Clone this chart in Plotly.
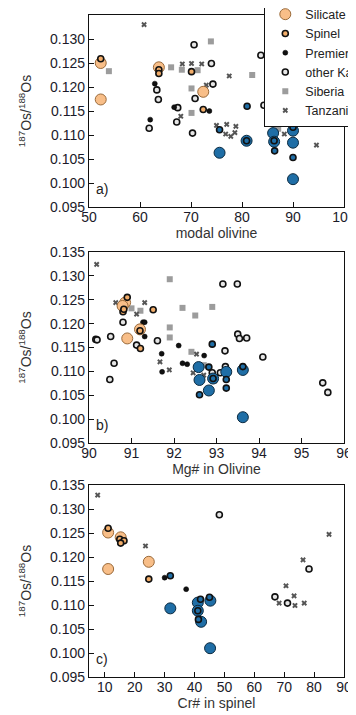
import plotly.graph_objects as go

# ---------------- data ----------------
Y_TICKS = [0.095, 0.100, 0.105, 0.110, 0.115, 0.120, 0.125, 0.130, 0.135]
Y_LABEL = "<sup>187</sup>Os/<sup>188</sup>Os"

panel_titles = ["modal olivine", "Mg# in Olivine", "Cr# in spinel"]
panel_tags = ["a)", "b)", "c)"]
x_ranges = [[50, 100], [90, 96], [4.7, 90]]
x_dticks = [10, 1, 10]

# ---- panel a: modal olivine ----
a_sulfide_x = [75.6, 80.9, 86.1, 86.3, 90.0, 90.0, 90.0]
a_sulfide_y = [0.1063, 0.1088, 0.1104, 0.1086, 0.1109, 0.1084, 0.1008]
a_silicate_x = [52.3, 63.7, 72.4, 52.3]
a_silicate_y = [0.1250, 0.1241, 0.1190, 0.1174]
a_spinel_x = [52.3, 63.7, 63.7, 70.1, 72.4]
a_spinel_y = [0.1259, 0.1236, 0.1228, 0.1232, 0.1153]
a_spinelb_x = [81.0, 75.6, 80.9, 86.3, 86.4, 90.0, 90.0]
a_spinelb_y = [0.1160, 0.1111, 0.1088, 0.1088, 0.1067, 0.1116, 0.1053]
a_premier_x = [62.9, 66.7, 73.6, 62.0]
a_premier_y = [0.1207, 0.1158, 0.1150, 0.1132]
a_kap_x = [70.6, 83.7, 74.0, 63.3, 74.3, 63.6, 70.8, 84.3, 67.4, 67.2, 61.8, 70.3]
a_kap_y = [0.1288, 0.1266, 0.1249, 0.1194, 0.1206, 0.1174, 0.1176, 0.1162, 0.1157, 0.1127, 0.1114, 0.1104]
a_sib_x = [73.9, 53.9, 66.1, 68.2, 71.3, 82.0, 70.1, 70.1, 87.1]
a_sib_y = [0.1295, 0.1233, 0.1241, 0.1236, 0.1235, 0.1225, 0.1197, 0.1146, 0.1113]
a_tan_x = [60.8, 68.3, 70.1, 72.1, 77.5, 73.0, 68.0, 75.0, 77.0, 78.8, 76.8, 77.8, 78.6, 88.3, 94.6]
a_tan_y = [0.1330, 0.1248, 0.1249, 0.1248, 0.1223, 0.1204, 0.1139, 0.1120, 0.1122, 0.1118, 0.1102, 0.1097, 0.1105, 0.1102, 0.1079]

# ---- panel b: Mg# in olivine ----
b_sulfide_x = [92.58, 92.60, 92.82, 92.92, 93.23, 93.62, 93.62]
b_sulfide_y = [0.1109, 0.1082, 0.1060, 0.1085, 0.1099, 0.1103, 0.1004]
b_silicate_x = [90.85, 90.79, 91.20, 90.90]
b_silicate_y = [0.1244, 0.1237, 0.1188, 0.1169]
b_spinel_x = [90.90, 90.80, 90.82, 91.51, 91.20, 91.21]
b_spinel_y = [0.1255, 0.1225, 0.1230, 0.1229, 0.1185, 0.1148]
b_spinelb_x = [92.90, 92.60, 92.82, 92.92, 93.23, 93.23, 93.62]
b_spinelb_y = [0.1157, 0.1051, 0.1109, 0.1085, 0.1083, 0.1065, 0.1110]
b_premier_x = [91.27, 91.31, 91.31, 92.11, 92.71, 91.71, 91.72, 92.20, 92.31]
b_premier_y = [0.1203, 0.1203, 0.1173, 0.1154, 0.1133, 0.1137, 0.1099, 0.1117, 0.1115]
b_kap_x = [93.15, 93.49, 90.80, 90.16, 90.19, 90.51, 91.61, 91.12, 93.50, 93.54, 93.71,
           93.20, 94.09, 90.59, 90.49, 92.90, 93.09, 93.21, 95.50, 95.62]
b_kap_y = [0.1283, 0.1283, 0.1203, 0.1167, 0.1166, 0.1173, 0.1164, 0.1155, 0.1178, 0.1169, 0.1170,
           0.1143, 0.1130, 0.1117, 0.1083, 0.1097, 0.1097, 0.1110, 0.1076, 0.1056]
b_sib_x = [91.90, 91.00, 91.21, 92.20, 92.50, 92.90, 91.90, 91.90, 92.41, 92.70]
b_sib_y = [0.1293, 0.1232, 0.1227, 0.1233, 0.1217, 0.1235, 0.1192, 0.1171, 0.1141, 0.1113]
b_tan_x = [90.18, 90.63, 91.31, 91.12, 92.53, 91.67, 91.89, 92.45, 92.70, 92.96, 93.27]
b_tan_y = [0.1324, 0.1244, 0.1244, 0.1220, 0.1136, 0.1120, 0.1103, 0.1097, 0.1092, 0.1080, 0.1097]

# ---- panel c: Cr# in spinel ----
c_sulfide_x = [31.9, 41.1, 41.1, 42.2, 45.3, 45.2]
c_sulfide_y = [0.1093, 0.1105, 0.1088, 0.1065, 0.1109, 0.1010]
c_silicate_x = [11.1, 15.3, 24.7, 11.1]
c_silicate_y = [0.1251, 0.1241, 0.1190, 0.1175]
c_spinel_x = [11.1, 15.0, 16.4, 15.3, 24.7]
c_spinel_y = [0.1260, 0.1237, 0.1234, 0.1229, 0.1154]
c_spinelb_x = [31.9, 42.0, 41.1, 41.3, 45.0]
c_spinelb_y = [0.1161, 0.1112, 0.1088, 0.1070, 0.1116]
c_premier_x = [30.0, 37.2]
c_premier_y = [0.1157, 0.1133]
c_kap_x = [48.3, 78.3, 66.9, 71.1]
c_kap_y = [0.1288, 0.1175, 0.1117, 0.1104]
c_sib_x = []
c_sib_y = []
c_tan_x = [7.6, 85.0, 23.6, 76.3, 70.6, 68.3, 73.3, 73.6, 76.7]
c_tan_y = [0.1329, 0.1247, 0.1223, 0.1194, 0.1140, 0.1104, 0.1119, 0.1099, 0.1104]

panels = [
    dict(sulfide=(a_sulfide_x, a_sulfide_y), silicate=(a_silicate_x, a_silicate_y),
         spinel=(a_spinel_x, a_spinel_y), spinelb=(a_spinelb_x, a_spinelb_y),
         premier=(a_premier_x, a_premier_y), kap=(a_kap_x, a_kap_y),
         sib=(a_sib_x, a_sib_y), tan=(a_tan_x, a_tan_y)),
    dict(sulfide=(b_sulfide_x, b_sulfide_y), silicate=(b_silicate_x, b_silicate_y),
         spinel=(b_spinel_x, b_spinel_y), spinelb=(b_spinelb_x, b_spinelb_y),
         premier=(b_premier_x, b_premier_y), kap=(b_kap_x, b_kap_y),
         sib=(b_sib_x, b_sib_y), tan=(b_tan_x, b_tan_y)),
    dict(sulfide=(c_sulfide_x, c_sulfide_y), silicate=(c_silicate_x, c_silicate_y),
         spinel=(c_spinel_x, c_spinel_y), spinelb=(c_spinelb_x, c_spinelb_y),
         premier=(c_premier_x, c_premier_y), kap=(c_kap_x, c_kap_y),
         sib=(c_sib_x, c_sib_y), tan=(c_tan_x, c_tan_y)),
]

# ---------------- styles ----------------
BLUE = "#1f6ea6"
PEACH = "#f8be88"
styles = {
    "sib": dict(name="Siberia", rank=6, marker=dict(symbol="square", size=6, color="#9c9c9c", line=dict(width=0))),
    "tan": dict(name="Tanzania", rank=7, marker=dict(symbol="x", size=5, color="#555555", line=dict(width=0))),
    "kap": dict(name="other Kapvaal", rank=5, marker=dict(symbol="circle", size=6, color="#e6e6e6", line=dict(width=1.6, color="#111"))),
    "premier": dict(name="Premier", rank=4, marker=dict(symbol="circle", size=5, color="#111111", line=dict(width=0.5, color="#000"))),
    "silicate": dict(name="Silicate", rank=2, marker=dict(symbol="circle", size=11, color=PEACH, line=dict(width=1, color="#9a6a3a"))),
    "sulfide": dict(name="Sulfide", rank=1, marker=dict(symbol="circle", size=11, color=BLUE, line=dict(width=1, color="#0b2a40"))),
    "spinel": dict(name="Spinel", rank=3, marker=dict(symbol="circle", size=6, color="#f2ad6a", line=dict(width=1.6, color="#111"))),
    "spinelb": dict(name="Spinel (sulfide)", rank=8, marker=dict(symbol="circle", size=6, color=BLUE, line=dict(width=1.6, color="#111"))),
}
draw_order = ["sib", "tan", "kap", "premier", "silicate", "sulfide", "spinel", "spinelb"]

# ---------------- figure ----------------
# the page body adds an 8px offset; work in screen pixels and subtract it
OFF = 8
W, H = 356 - OFF, 715 - OFF
ML, MR, MT, MB = 89 - OFF, 12, 15 - OFF, 38
PH = H - MT - MB
spans = [(15, 207), (252, 443), (485, 677)]   # panel top/bottom in screen px
domains = [[(H - MB - (b - OFF)) / PH, (H - MB - (t - OFF)) / PH] for (t, b) in spans]
domains[0][1] = 1.0
domains[2][0] = 0.0

fig = go.Figure()
for i, pdata in enumerate(panels):
    xa = "x" if i == 0 else f"x{i+1}"
    ya = "y" if i == 0 else f"y{i+1}"
    for key in draw_order:
        st = styles[key]
        xs, ys = pdata[key]
        fig.add_trace(go.Scatter(
            x=xs, y=ys, mode="markers", name=st["name"],
            legendgroup=key, legendrank=st["rank"],
            showlegend=(i == 0 and key != "spinelb"),
            marker=st["marker"], xaxis=xa, yaxis=ya, hoverinfo="x+y+name",
        ))

FONT = "Liberation Sans, Arial, Helvetica, sans-serif"
TICKCOL = "#1b1b2a"
axis_common = dict(showline=True, linecolor="#111", linewidth=1.3, mirror=True,
                   ticks="inside", ticklen=5, tickwidth=1, tickcolor="#111",
                   showgrid=False, zeroline=False,
                   tickfont=dict(family=FONT, size=14, color=TICKCOL))

layout = dict(width=W, height=H, margin=dict(l=ML, r=MR, t=MT, b=MB, autoexpand=False),
              paper_bgcolor="white", plot_bgcolor="white",
              font=dict(family=FONT, color="#222"))

for i in range(3):
    xk = "xaxis" if i == 0 else f"xaxis{i+1}"
    yk = "yaxis" if i == 0 else f"yaxis{i+1}"
    ya = "y" if i == 0 else f"y{i+1}"
    xa = "x" if i == 0 else f"x{i+1}"
    layout[xk] = dict(axis_common, range=x_ranges[i], dtick=x_dticks[i], tick0=0,
                      anchor=ya, domain=[0, 1], ticklabelstandoff=-3,
                      title=dict(text=panel_titles[i], font=dict(size=14, color="#333"), standoff=0))
    layout[yk] = dict(axis_common, range=[0.095, 0.135], tickvals=Y_TICKS,
                      tickformat=".3f", anchor=xa, domain=domains[i],
                      title=dict(text=Y_LABEL, font=dict(size=14, color="#333"), standoff=15))

fig.update_layout(**layout)

for i, tag in enumerate(panel_tags):
    xa = "x" if i == 0 else f"x{i+1}"
    ya = "y" if i == 0 else f"y{i+1}"
    fig.add_annotation(text=tag, xref=f"{xa} domain", yref=f"{ya} domain",
                       x=0.02, y=0.04, xanchor="left", yanchor="bottom",
                       showarrow=False, font=dict(family=FONT, size=14, color="#222"))

LEG_LEFT = 264 - OFF      # screen px of legend box left edge
LEG_TOP = -21 - OFF       # legend top sits above the page (first entry cut)
fig.update_layout(legend=dict(
    x=(LEG_LEFT - ML) / (W - ML - MR), y=1 + (MT - LEG_TOP) / PH,
    xanchor="left", yanchor="top",
    bgcolor="white", bordercolor="#111", borderwidth=1.3,
    font=dict(family=FONT, size=12.5, color="#222"), tracegroupgap=0,
    itemsizing="trace", traceorder="normal",
))

fig.write_html("out.html")
